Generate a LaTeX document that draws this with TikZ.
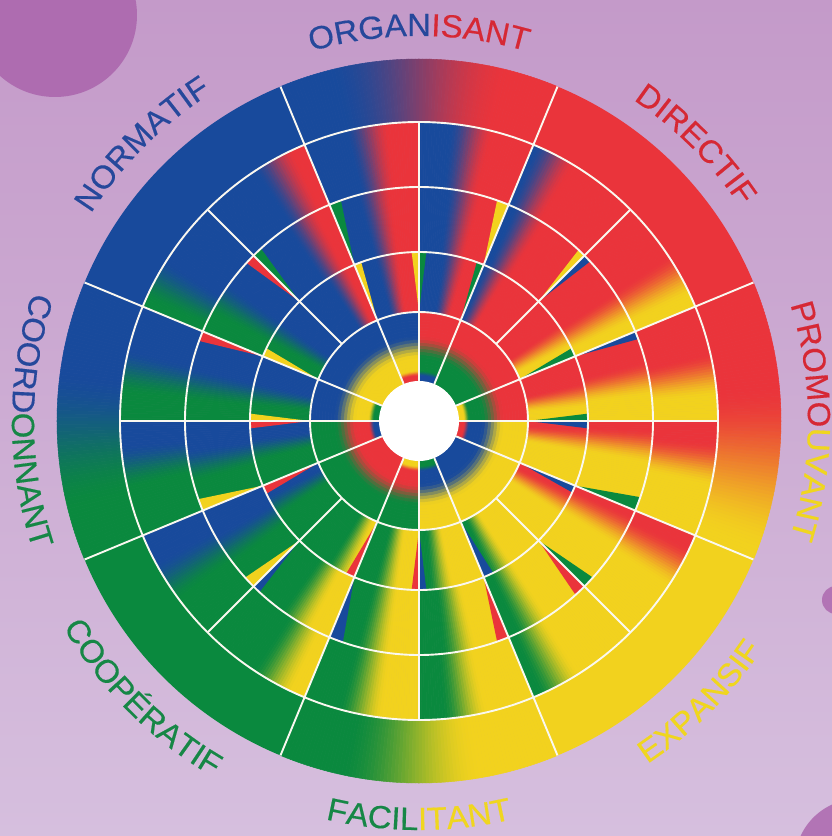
\documentclass[tikz,border=0pt]{standalone}
\usepackage{fontspec}
\setmainfont{Liberation Sans}
\newfontfamily\labfam[FakeBold=0.4,FakeStretch=1.03]{Liberation Sans}
\usetikzlibrary{decorations.text}
\definecolor{cB}{RGB}{24,74,156}
\definecolor{cR}{RGB}{234,52,59}
\definecolor{cY}{RGB}{242,210,30}
\definecolor{cG}{RGB}{10,137,62}
\definecolor{lB}{RGB}{38,72,155}
\definecolor{lR}{RGB}{214,40,52}
\definecolor{lY}{RGB}{240,214,30}
\definecolor{lG}{RGB}{22,135,70}
\definecolor{bgtop}{RGB}{196,154,201}
\definecolor{bgbot}{RGB}{214,191,222}
\definecolor{dotc}{RGB}{174,108,176}
\definecolor{linec}{RGB}{250,248,240}
\newcommand\labfont{\labfam\fontsize{32}{36}\selectfont}
% angular gradient cell: slices r1 r2 a1 a2 colour-at-a1 colour-at-a2 t w
\newcommand\angcell[9]{%
  \foreach \k in {1,...,#1}{%
    \pgfmathsetmacro\sA{#4+(#5-#4)*(\k-1)/#1}%
    \pgfmathsetmacro\sB{#4+(#5-#4)*\k/#1}%
    \pgfmathsetmacro\qq{max(0,min(1,((\k-0.5)/#1-#8)/#9+0.5))}%
    \pgfmathsetmacro\pp{100*\qq*\qq*(3-2*\qq)}%
    \colorlet{mixc}{#7!\pp!#6}%
    \fill[mixc,draw=mixc,line width=0.5pt] (\sA:#2) -- (\sA:#3) arc[start angle=\sA,end angle=\sB,radius=#3] -- (\sB:#2) arc[start angle=\sB,end angle=\sA,radius=#2] -- cycle;
  }}
% radial gradient cell: r1 r2 a1 a2 colour-inner colour-outer t(radius) w(radius)
\newcommand\radcell[8]{%
  \foreach \k in {1,...,18}{%
    \pgfmathsetmacro\rA{#1+(#2-#1)*(\k-1)/18}%
    \pgfmathsetmacro\rB{#1+(#2-#1)*\k/18}%
    \pgfmathsetmacro\qq{max(0,min(1,((\rA+\rB)/2-#7)/#8+0.5))}%
    \pgfmathsetmacro\pp{100*\qq*\qq*(3-2*\qq)}%
    \colorlet{mixc}{#6!\pp!#5}%
    \fill[mixc,draw=mixc,line width=0.5pt] (#3:\rA) -- (#3:\rB) arc[start angle=#3,end angle=#4,radius=\rB] -- (#4:\rA) arc[start angle=#4,end angle=#3,radius=\rA] -- cycle;
  }}
\newcommand\solidcell[5]{%
  \fill[#5] (#3:#1) -- (#3:#2) arc[start angle=#3,end angle=#4,radius=#2] -- (#4:#1) arc[start angle=#4,end angle=#3,radius=#1] -- cycle;}
% thin wedge: rin rout a b colour (tip on line a at rin)
\newcommand\wedg[5]{%
  \fill[#5] (#3:#1) -- (#3:#2) arc[start angle=#3,end angle=#4,radius=#2] -- cycle;}
\begin{document}
\begin{tikzpicture}[x=1pt,y=1pt,wl/.style={draw=linec,line width=1.9pt}]
\useasboundingbox (-419,-415) rectangle (413,421);
\clip (-419,-415) rectangle (413,421);
\fill[top color=bgtop,bottom color=bgbot] (-419,-415) rectangle (413,421);
\fill[dotc] (-364,406) circle[radius=82];
\fill[dotc!90!bgbot] (417,-179) circle[radius=14];
\fill[dotc!90!bgbot] (439,-441) circle[radius=63];
% outer ring
\solidcell{298}{362}{22.5}{67.5}{cR}
\solidcell{298}{362}{-67.5}{-22.5}{cY}
\solidcell{298}{362}{-157.5}{-112.5}{cG}
\solidcell{298}{362}{112.5}{157.5}{cB}
\angcell{80}{298}{362}{67.5}{112.5}{cR}{cB}{0.5}{0.65}
\angcell{80}{298}{362}{-22.5}{22.5}{cY}{cR}{0.33}{0.6}
\angcell{80}{298}{362}{-112.5}{-67.5}{cG}{cY}{0.47}{0.5}
\angcell{80}{298}{362}{157.5}{202.5}{cB}{cG}{0.57}{0.5}
% ring 4
\foreach \i/\ca/\cb/\tp in {0/cY/cR/.4,1/cY/cR/.3,2/cR/cB/.8,3/cR/cB/.55,4/cR/cB/.45,5/cR/cB/.3,6/cB/cG/.75,7/cB/cG/.58,8/cB/cG/.4,9/cB/cG/.45,10/cG/cY/.7,11/cG/cY/.5,12/cG/cY/.4,13/cG/cY/.25,14/cY/cR/.7,15/cY/cR/.63}
{\pgfmathsetmacro\aL{22.5*\i}\pgfmathsetmacro\aH{22.5*(\i+1)}\angcell{44}{233}{299}{\aL}{\aH}{\ca}{\cb}{\tp}{0.38}}
% ring 3
\foreach \i/\ca/\cb/\tp in {0/cY/cR/.47,1/cY/cR/.3,2/cR/cB/.75,3/cR/cB/.5,4/cR/cB/.5,5/cR/cB/.35,6/cB/cG/.6,7/cB/cG/.6,8/cB/cG/.5,9/cB/cG/.5,10/cG/cY/.6,11/cG/cY/.5,12/cG/cY/.45,13/cG/cY/.3,14/cY/cR/.75,15/cY/cR/.72}
{\pgfmathsetmacro\aL{22.5*\i}\pgfmathsetmacro\aH{22.5*(\i+1)}\angcell{40}{168}{234}{\aL}{\aH}{\ca}{\cb}{\tp}{0.38}}
% ring 2
\foreach \i/\ca/\cb/\tp in {0/cY/cR/.4,1/cY/cR/.35,2/cR/cB/.8,3/cR/cB/.45,4/cR/cB/.5,5/cR/cB/.3,6/cB/cG/.6,7/cB/cG/.6,8/cB/cG/.45,9/cB/cG/.35,10/cG/cY/.75,11/cG/cY/.5,12/cG/cY/.35,13/cG/cY/.3,14/cY/cR/.7,15/cY/cR/.7}
{\pgfmathsetmacro\aL{22.5*\i}\pgfmathsetmacro\aH{22.5*(\i+1)}\angcell{36}{108}{169}{\aL}{\aH}{\ca}{\cb}{\tp}{0.38}}
% ring 1
\foreach \aL/\aH/\co/\cm/\ci in {0/22.5/cR/cG/cY,22.5/67.5/cR/cG/cG,67.5/90/cR/cG/cB,90/112.5/cB/cY/cR,112.5/157.5/cB/cY/cY,157.5/180/cB/cY/cG,180/202.5/cG/cR/cB,202.5/247.5/cG/cR/cR,247.5/270/cG/cR/cY,270/292.5/cY/cB/cG,292.5/337.5/cY/cB/cB,337.5/360/cY/cB/cR}
{\radcell{39}{54}{\aL}{\aH}{\ci}{\cm}{48}{6}\radcell{54}{109}{\aL}{\aH}{\cm}{\co}{74}{22}}
% wedges ring 2
\foreach \a/\b/\c in {0/2.5/cG,0/-2.5/cB,22.5/25.5/cG,67.5/70/cG,90/92.5/cY,90/87.5/cG,112.5/110/cY,157.5/154.5/cY,180/177.5/cY,180/182.5/cR,202.5/205.5/cR,247.5/244.5/cR,270/267.5/cR,270/272.5/cB,292.5/296/cB,337.5/335/cB}
{\wedg{109}{169}{\a}{\b}{\c}}
% wedges ring 3
\foreach \a/\b/\c in {22.5/20.5/cB,45/43/cB,45/47/cY,67.5/70.5/cY,112.5/109.5/cG,135/132.5/cG,135/137.5/cR,157.5/160/cR,202.5/199.5/cY,225/222/cY,225/227/cB,247.5/251/cB,292.5/289.5/cR,315/312/cR,315/318/cG,337.5/341/cG}
{\wedg{169}{234}{\a}{\b}{\c}}
% white grid
\foreach \r in {109,169,234,299} \draw[wl] (0,0) circle[radius=\r];
\foreach \a in {0,22.5,...,337.5} \draw[wl] (\a:109) -- (\a:299);
\foreach \a in {0,22.5,67.5,90,112.5,157.5,180,202.5,247.5,270,292.5,337.5} \draw[wl] (\a:40) -- (\a:109);
\foreach \a in {22.5,67.5,...,337.5} \draw[wl] (\a:299) -- (\a:362);
\fill[white] (0,0) circle[radius=40];
% labels, upper half (reading clockwise)
\path[decorate,decoration={text along path,text align=center,text={|\labfont\color{lB}|ORGAN|\labfont\color{lR}|ISANT}}] (135:385) arc[start angle=135,end angle=45,radius=385];
\path[decorate,decoration={text along path,text align=center,text={|\labfont\color{lR}|DIRECTIF}}] (90:386) arc[start angle=90,end angle=0,radius=386];
\path[decorate,decoration={text along path,text align=center,text={|\labfont\color{lB}|NORMATIF}}] (180:388) arc[start angle=180,end angle=90,radius=388];
\path[decorate,decoration={text along path,text align=center,text={|\labfont\color{lR}|PROMO|\labfont\color{lY}|UVANT}}] (45:389) arc[start angle=45,end angle=-45,radius=389];
% labels, lower half (reading counter-clockwise)
\path[decorate,decoration={text along path,text align=center,text={|\labfont\color{lG}|FACIL|\labfont\color{lY}|ITANT}}] (225:409) arc[start angle=225,end angle=315,radius=409];
\path[decorate,decoration={text along path,text align=center,text={|\labfont\color{lY}|EXPANSIF}}] (270:412) arc[start angle=270,end angle=360,radius=412];
\path[decorate,decoration={text along path,text align=center,text={|\labfont\color{lG}|COOPÉRATIF}}] (180:411) arc[start angle=180,end angle=270,radius=411];
\path[decorate,decoration={text along path,text align=center,text={|\labfont\color{lB}|COORD|\labfont\color{lG}|ONNANT}}] (135:407) arc[start angle=135,end angle=225,radius=407];
\end{tikzpicture}
\end{document}
